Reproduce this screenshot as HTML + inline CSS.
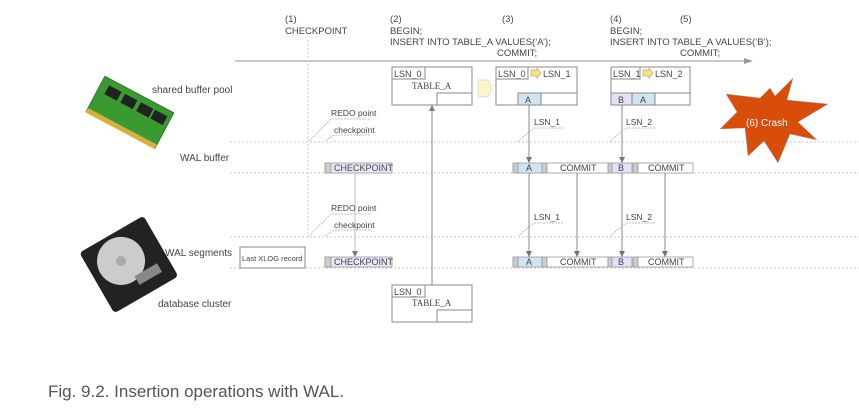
<!DOCTYPE html>
<html><head><meta charset="utf-8"><style>
html,body{margin:0;padding:0;background:#fff;width:859px;height:412px;overflow:hidden}
svg text{font-family:"Liberation Sans",sans-serif;fill:#444}
</style></head><body>
<svg width="859" height="412" viewBox="0 0 859 412" xmlns="http://www.w3.org/2000/svg">
<defs>
<marker id="ar" markerWidth="6" markerHeight="6" refX="6" refY="3" orient="auto" markerUnits="userSpaceOnUse"><path d="M0,0 L6,3 L0,6z" fill="#777"/></marker>
</defs>
<g font-size="9.5">
<text x="285" y="22">(1)</text><text x="285" y="34">CHECKPOINT</text>
<text x="390" y="22">(2)</text><text x="390" y="34">BEGIN;</text><text x="390" y="45">INSERT INTO TABLE_A VALUES(‘A’);</text><text x="497" y="56">COMMIT;</text>
<text x="502" y="22">(3)</text>
<text x="610" y="22">(4)</text><text x="610" y="34">BEGIN;</text><text x="610" y="45">INSERT INTO TABLE_A VALUES(‘B’);</text><text x="680" y="56">COMMIT;</text>
<text x="680" y="22">(5)</text>
</g>
<line x1="235" y1="61" x2="745" y2="61" stroke="#aaa" stroke-width="1.2"/>
<path d="M744,58 L753,61 L744,64z" fill="#999"/>
<g stroke="#bbb" stroke-dasharray="2,2" stroke-width="0.8">
<line x1="308" y1="40" x2="308" y2="237"/>
<line x1="230" y1="142" x2="859" y2="142"/>
<line x1="230" y1="173" x2="859" y2="173"/>
<line x1="230" y1="237" x2="859" y2="237"/>
<line x1="230" y1="268" x2="859" y2="268"/>
</g>
<g transform="rotate(28 130 110)">
<rect x="92" y="92" width="78" height="40" fill="#3a9a32" stroke="#2a7a22"/>
<rect x="92" y="128" width="78" height="5" fill="#d8b040"/>
<rect x="100" y="98" width="14" height="10" fill="#222"/><rect x="118" y="98" width="14" height="10" fill="#222"/><rect x="136" y="98" width="14" height="10" fill="#222"/><rect x="152" y="98" width="14" height="10" fill="#222"/>
</g>
<g transform="rotate(-30 128 265)">
<rect x="92" y="230" width="74" height="70" rx="4" fill="#222"/>
<circle cx="124" cy="258" r="24" fill="#ccc"/><circle cx="124" cy="258" r="5" fill="#aaa"/>
<rect x="128" y="278" width="26" height="10" fill="#888"/>
</g>
<g font-size="10">
<text x="152" y="93">shared buffer pool</text>
<text x="180" y="161">WAL buffer</text>
<text x="165" y="256">WAL segments</text>
<text x="158" y="307">database cluster</text>
</g>
<g stroke="#888" fill="#fff" stroke-width="1">
<rect x="392" y="67" width="80" height="38"/>
<rect x="392" y="67" width="33" height="12"/>
<rect x="437" y="93" width="35" height="12"/>
<rect x="496" y="67" width="81" height="38"/>
<rect x="496" y="67" width="32" height="12"/>
<rect x="518" y="93" width="59" height="12"/>
<rect x="518" y="93" width="23" height="12" fill="#cfe5f2"/>
<rect x="611" y="67" width="79" height="38"/>
<rect x="611" y="67" width="29" height="12"/>
<rect x="611" y="93" width="79" height="12"/>
<rect x="611" y="93" width="21" height="12" fill="#e2e2f8"/>
<rect x="632" y="93" width="23" height="12" fill="#cfe5f2"/>
<rect x="392" y="285" width="80" height="37"/>
<rect x="392" y="285" width="33" height="12"/>
<rect x="437" y="310" width="35" height="12"/>
<rect x="240" y="247" width="65" height="21"/>
</g>
<path d="M478,80 L488,80 L492,88 L488,97 L478,97z" fill="#fbf5c8" stroke="#ddd"/>
<path d="M531,70 L537,70 L537,68 L541,73 L537,78 L537,76 L531,76z" fill="#f6e66a" stroke="#bba"/>
<path d="M643,70 L649,70 L649,68 L653,73 L649,78 L649,76 L643,76z" fill="#f6e66a" stroke="#bba"/>
<g font-size="9">
<text x="394" y="77">LSN_0</text><text x="412" y="89" style="font-family:'Liberation Serif',serif">TABLE_A</text>
<text x="498" y="77">LSN_0</text><text x="543" y="77">LSN_1</text><text x="525" y="103">A</text>
<text x="613" y="77">LSN_1</text><text x="655" y="77">LSN_2</text><text x="618" y="103">B</text><text x="640" y="103">A</text>
<text x="394" y="295">LSN_0</text><text x="412" y="306" style="font-family:'Liberation Serif',serif">TABLE_A</text>
<text x="242" y="261" font-size="7.5">Last XLOG record</text>
</g>
<g id="rec" stroke="#999" stroke-width="0.8">
<rect x="325" y="163" width="67" height="10" fill="#e8e8f8"/><rect x="325" y="163" width="6" height="10" fill="#ccc"/>
<rect x="513" y="163" width="5" height="10" fill="#ccc"/><rect x="518" y="163" width="24" height="10" fill="#cfe5f2"/>
<rect x="542" y="163" width="5" height="10" fill="#ccc"/><rect x="547" y="163" width="61" height="10" fill="#fff"/>
<rect x="608" y="163" width="4" height="10" fill="#ccc"/><rect x="612" y="163" width="20" height="10" fill="#e2e2f8"/>
<rect x="633" y="163" width="5" height="10" fill="#ccc"/><rect x="638" y="163" width="55" height="10" fill="#fff"/>
</g>
<use href="#rec" y="94"/>
<g font-size="9">
<text x="334" y="171">CHECKPOINT</text><text x="526" y="171">A</text><text x="560" y="171">COMMIT</text><text x="618" y="171">B</text><text x="648" y="171">COMMIT</text>
<text x="334" y="265">CHECKPOINT</text><text x="526" y="265">A</text><text x="560" y="265">COMMIT</text><text x="618" y="265">B</text><text x="648" y="265">COMMIT</text>
</g>
<g stroke="#888" stroke-width="1" marker-end="url(#ar)">
<line x1="529" y1="105" x2="529" y2="163"/>
<line x1="529" y1="173" x2="529" y2="257"/>
<line x1="577" y1="173" x2="577" y2="257"/>
<line x1="622" y1="105" x2="622" y2="163"/>
<line x1="622" y1="173" x2="622" y2="257"/>
<line x1="665" y1="173" x2="665" y2="257"/>
<line x1="355" y1="173" x2="355" y2="257" stroke="#bbb"/>
<line x1="432" y1="285" x2="432" y2="105"/>
</g>
<g font-size="8.5">
<text x="331" y="116">REDO point</text><text x="334" y="133">checkpoint</text>
<text x="331" y="211">REDO point</text><text x="334" y="228">checkpoint</text>
<text x="534" y="125">LSN_1</text><text x="626" y="125">LSN_2</text>
<text x="534" y="220">LSN_1</text><text x="626" y="220">LSN_2</text>
</g>
<g stroke="#aaa" stroke-width="0.7" stroke-dasharray="2,1" fill="none">
<path d="M370,119 L331,119 L309,141"/><path d="M370,135 L334,135 L325,141"/>
<path d="M370,214 L331,214 L309,236"/><path d="M370,230 L334,230 L325,236"/>
<path d="M563,128 L534,128 L518,141"/><path d="M655,128 L626,128 L610,141"/>
<path d="M563,223 L534,223 L518,236"/><path d="M655,223 L626,223 L610,236"/>
</g>
<polygon points="793,78 787,100 828,104 798,122 817,140 790,134 778,163 764,141 748,156 745,128 720,129 737,112 726,94 760,98 770,88 775,96" fill="#d94d0a" stroke="#aaa" stroke-width="0.5"/>
<text x="746" y="126" font-size="10" style="fill:#fff">(6)  Crash</text>
<text x="48" y="397" font-size="17" style="fill:#555">Fig. 9.2. Insertion operations with WAL.</text>
</svg>
</body></html>
